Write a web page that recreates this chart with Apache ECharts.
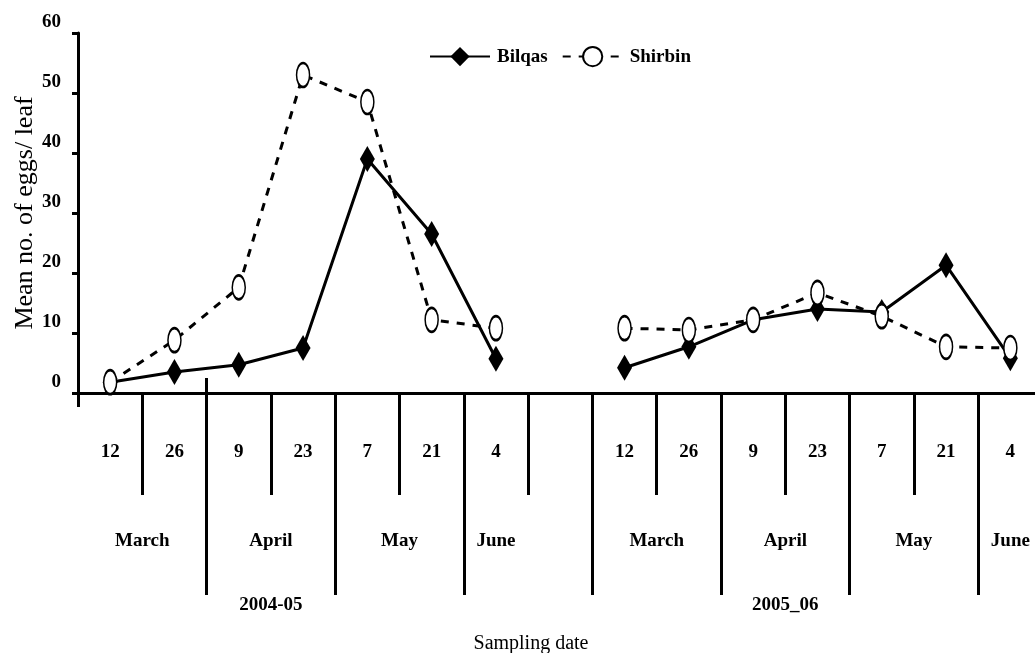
<!DOCTYPE html>
<html>
<head>
<meta charset="utf-8">
<script src="https://cdn.jsdelivr.net/npm/echarts@6/dist/echarts.min.js"></script>
<style>
html,body{margin:0;padding:0;background:#fff;}
#chart{width:1035px;height:653px;}
</style>
</head>
<body>
<div id="chart"></div>
<script>
// ---- data ----
var days    = ['12','26','9','23','7','21','4','', '12','26','9','23','7','21','4'];
var months  = ['March','March','April','April','May','May','June','', 'March','March','April','April','May','May','June'];
var seasons = ['2004-05','2004-05','2004-05','2004-05','2004-05','2004-05','2004-05','', '2005_06','2005_06','2005_06','2005_06','2005_06','2005_06','2005_06'];
var bilqas  = [1.8, 3.5, 4.7, 7.5, 39, 26.5, 5.7, null, 4.2, 7.7, 12.2, 14, 13.5, 21.3, 5.8];
var shirbin = [1.8, 8.8, 17.6, 53, 48.5, 12.2, 10.8, null, 10.8, 10.5, 12.2, 16.7, 12.8, 7.7, 7.5];
var yTicks  = [0, 10, 20, 30, 40, 50, 60];

// ---- derived axis decorations (from the category layout) ----
var n = days.length;
var longTicks = [], shortTicks = [];
for (var i = 1; i < n; i++) {
  if (months[i] !== '' && months[i] !== months[i - 1]) longTicks.push(i); else shortTicks.push(i);
}
var monthPos = [], monthLbl = {};
var s = 0;
for (var i = 1; i <= n; i++) {
  if (i === n || months[i] !== months[s]) {
    if (months[s] !== '') { var c = (s + i) / 2; monthPos.push(c); monthLbl[c] = months[s]; }
    s = i;
  }
}
// season label sits under the second month of each season
var seasonPos = [], seasonLbl = {};
var seen = {};
for (var k = 0; k < monthPos.length; k++) {
  var idx = Math.floor(monthPos[k]);
  var se = seasons[idx];
  seen[se] = (seen[se] || 0) + 1;
  if (seen[se] === 2) { seasonPos.push(monthPos[k]); seasonLbl[monthPos[k]] = se; }
}

var FONT = '"Liberation Serif", "Times New Roman", serif';
var ellipse = 'path://M0,-1 A1,1 0 1,1 0,1 A1,1 0 1,1 0,-1 Z';

function decoAxis(extra) {
  var base = {
    type: 'value', min: 0, max: n, position: 'bottom',
    axisLine: { show: false }, splitLine: { show: false },
    axisTick: { show: false }, axisLabel: { show: false }
  };
  for (var key in extra) base[key] = extra[key];
  return base;
}

var chart = echarts.init(document.getElementById('chart'));
chart.setOption({
  animation: false,
  backgroundColor: '#fff',
  grid: { left: 78, top: 33, width: 964.5, height: 360, containLabel: false, outerBoundsMode: 'none' },
  legend: {
    data: ['Bilqas', 'Shirbin'],
    left: 424, top: 41,
    itemWidth: 60, itemHeight: 24, itemGap: 14,
    textStyle: { fontFamily: FONT, fontWeight: 'bold', fontSize: 19, color: '#000', padding: [0, 0, 0, 2] }
  },
  xAxis: [
    {
      type: 'category', data: days, boundaryGap: true, position: 'bottom',
      axisLine: { show: true, onZero: false, lineStyle: { color: '#000', width: 3 } },
      axisTick: { show: false },
      axisLabel: { interval: 0, margin: 50, fontFamily: FONT, fontWeight: 'bold', fontSize: 19, color: '#000' },
      splitLine: { show: false }
    },
    decoAxis({ axisTick: { show: true, customValues: shortTicks, length: 102, lineStyle: { color: '#000', width: 3 } } }),
    decoAxis({
      axisTick: { show: true, customValues: longTicks, length: 202, lineStyle: { color: '#000', width: 3 } },
      axisLabel: { show: true, customValues: monthPos, margin: 139, fontFamily: FONT, fontWeight: 'bold', fontSize: 19, color: '#000',
        formatter: function (v) { return monthLbl[v] || ''; } }
    }),
    decoAxis({
      axisLabel: { show: true, customValues: seasonPos, margin: 203, fontFamily: FONT, fontWeight: 'bold', fontSize: 19, color: '#000',
        formatter: function (v) { return seasonLbl[v] || ''; } }
    }),
    decoAxis({ axisTick: { show: true, customValues: [0], length: 14, lineStyle: { color: '#000', width: 3 } } }),
    decoAxis({ axisTick: { show: true, inside: true, customValues: [longTicks[0]], length: 15, lineStyle: { color: '#000', width: 3 } } })
  ],
  yAxis: {
    type: 'value', min: yTicks[0], max: yTicks[yTicks.length - 1], interval: yTicks[1] - yTicks[0],
    name: 'Mean no. of eggs/ leaf', nameLocation: 'middle', nameGap: 40, nameMoveOverlap: false,
    nameTextStyle: { fontFamily: FONT, fontSize: 26, color: '#000' },
    axisLine: { show: true, onZero: false, lineStyle: { color: '#000', width: 3 } },
    axisTick: { show: true, length: 6, lineStyle: { color: '#000', width: 3 } },
    axisLabel: { margin: 17, fontFamily: FONT, fontWeight: 'bold', fontSize: 19, color: '#000', verticalAlign: 'bottom', lineHeight: 19, padding: [0, 0, 1, 0] },
    splitLine: { show: false }
  },
  series: [
    {
      name: 'Bilqas', type: 'line', xAxisIndex: 0, data: bilqas, connectNulls: false,
      symbol: 'diamond', symbolSize: [15, 26], showAllSymbol: true,
      itemStyle: { color: '#000' },
      lineStyle: { color: '#000', width: 3 },
      z: 2
    },
    {
      name: 'Shirbin', type: 'line', xAxisIndex: 0, data: shirbin, connectNulls: false,
      symbol: ellipse, symbolSize: [13, 24], showAllSymbol: true,
      itemStyle: { color: '#fff', borderColor: '#000', borderWidth: 2 },
      lineStyle: { color: '#000', width: 3, type: [8, 8] },
      z: 3
    }
  ],
  graphic: [
    { type: 'text', x: 531, y: 644, style: { text: 'Sampling date', font: '20px ' + FONT, fill: '#000', align: 'center', verticalAlign: 'middle' } }
  ]
});
</script>
</body>
</html>
